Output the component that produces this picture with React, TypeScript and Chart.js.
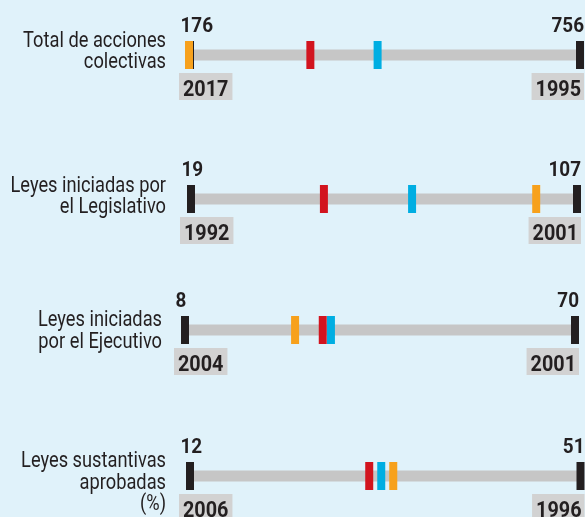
import React, { useEffect, useRef } from "react";
import { Chart, registerables } from "chart.js";

Chart.register(...registerables);

// ---------- data ----------
const rowLabels: string[][] = [
  ["Total de acciones", "colectivas"],
  ["Leyes iniciadas por", "el Legislativo"],
  ["Leyes iniciadas", "por el Ejecutivo"],
  ["Leyes sustantivas", "aprobadas", "(%)"],
];
const minValues = [176, 19, 8, 12];
const maxValues = [756, 107, 70, 51];
const minYears = ["2017", "1992", "2004", "2006"];
const maxYears = ["1995", "2001", "2001", "1996"];
const redValues = [355, 49.3, 29.9, 29.9];
const blueValues = [455, 69.4, 31.2, 31.1];
const orangeValues = [174.5, 97.7, 25.5, 32.3];

// ---------- layout / style ----------
const W = 585;
const H = 517;
const ROW_H = 110;
const rowCenters = [54.5, 198.5, 330, 475.5];
const rowLeft = [190, 191, 185, 190];
const rowRight = [580, 577, 575, 580.5];
const labelRight = [166, 166, 162, 166];
const labelFirstBaseline = [-8.5, -7.5, -4, -8.8];

const BG = "#e0f2fa";
const TRACK = "#c6c6c6";
const BOX = "#d2d2d2";
const DARK = "#231f20";
const RED = "#d2141e";
const BLUE = "#00aee2";
const ORANGE = "#f7a11c";

const LABEL_FONT = "22px Roboto";
const LABEL_SX = 0.83;
const NUM_FONT = "bold 21px Roboto";
const YEAR_FONT = "bold 22px Roboto";
const NUM_SX = 0.9;

function drawText(
  ctx: CanvasRenderingContext2D,
  text: string,
  x: number,
  y: number,
  align: CanvasTextAlign,
  font: string,
  sx: number
) {
  ctx.save();
  ctx.font = font;
  ctx.fillStyle = DARK;
  ctx.textAlign = align;
  ctx.textBaseline = "alphabetic";
  ctx.translate(x, y);
  ctx.scale(sx, 1);
  ctx.fillText(text, 0, 0);
  ctx.restore();
}

function measure(ctx: CanvasRenderingContext2D, text: string, font: string, sx: number) {
  ctx.save();
  ctx.font = font;
  const w = ctx.measureText(text).width * sx;
  ctx.restore();
  return w;
}

function marker(label: string, value: number[], color: string) {
  return {
    label,
    data: value.map((v) => ({ x: v, y: 0 })),
    pointStyle: "line",
    pointRotation: 90,
    pointRadius: 14,
    pointHoverRadius: 14,
    pointBorderWidth: 8,
    pointHoverBorderWidth: 8,
    pointBorderColor: color,
    pointBackgroundColor: color,
    borderColor: color,
    showLine: false,
    clip: false,
  };
}

function Row({ i }: { i: number }) {
  const ref = useRef<HTMLCanvasElement | null>(null);
  useEffect(() => {
    if (!ref.current) return;
    const textPlugin = {
      id: "rowText" + i,
      afterDraw(chart: any) {
        const ctx = chart.ctx as CanvasRenderingContext2D;
        const xs = chart.scales.x;
        const cy = chart.scales.y.getPixelForValue(0);
        const xl = xs.getPixelForValue(minValues[i]);
        const xr = xs.getPixelForValue(maxValues[i]);
        // values above
        drawText(ctx, String(minValues[i]), xl - 9.5, cy - 23, "left", NUM_FONT, NUM_SX);
        drawText(ctx, String(maxValues[i]), xr + 4, cy - 23, "right", NUM_FONT, NUM_SX);
        // year boxes
        const wl = measure(ctx, minYears[i], YEAR_FONT, NUM_SX);
        ctx.fillStyle = BOX;
        ctx.fillRect(xl - 11, cy + 18, wl + 8, 27);
        drawText(ctx, minYears[i], xl - 7, cy + 40.5, "left", YEAR_FONT, NUM_SX);
        const wr = measure(ctx, maxYears[i], YEAR_FONT, NUM_SX);
        ctx.fillStyle = BOX;
        ctx.fillRect(xr + 4 - wr - 7, cy + 18, wr + 7, 27);
        drawText(ctx, maxYears[i], xr + 1, cy + 40.5, "right", YEAR_FONT, NUM_SX);
        // row label
        rowLabels[i].forEach((line, k) => {
          drawText(ctx, line, labelRight[i], cy + labelFirstBaseline[i] + k * 21.5, "right", LABEL_FONT, LABEL_SX);
        });
      },
    };
    const chart = new Chart(ref.current, {
      type: "scatter",
      data: {
        datasets: [
          marker("orange", [orangeValues[i]], ORANGE),
          marker("blue", [blueValues[i]], BLUE),
          marker("red", [redValues[i]], RED),
          marker("ends", [minValues[i], maxValues[i]], DARK),
          {
            label: "track",
            data: [
              { x: minValues[i], y: 0 },
              { x: maxValues[i], y: 0 },
            ],
            showLine: true,
            borderColor: TRACK,
            borderWidth: 11,
            borderCapStyle: "butt",
            pointRadius: 0,
            pointHoverRadius: 0,
            clip: false,
          } as any,
        ] as any,
      },
      options: {
        animation: false,
        responsive: false,
        events: [],
        layout: {
          autoPadding: false,
          padding: { left: rowLeft[i], right: W - rowRight[i], top: 0, bottom: 0 },
        },
        plugins: { legend: { display: false }, tooltip: { enabled: false } },
        scales: {
          x: { type: "linear", min: minValues[i], max: maxValues[i], display: false },
          y: { type: "linear", min: -1, max: 1, display: false },
        },
      },
      plugins: [textPlugin],
    } as any);
    return () => chart.destroy();
  }, [i]);
  return (
    <canvas
      ref={ref}
      width={W}
      height={ROW_H}
      style={{ position: "absolute", left: 0, top: rowCenters[i] - ROW_H / 2, width: W, height: ROW_H }}
    />
  );
}

export default function App() {
  return (
    <div
      style={{
        position: "fixed",
        left: 0,
        top: 0,
        width: W,
        height: H,
        overflow: "hidden",
        background: BG,
      }}
    >
      {rowLabels.map((_, i) => (
        <Row key={i} i={i} />
      ))}
    </div>
  );
}
